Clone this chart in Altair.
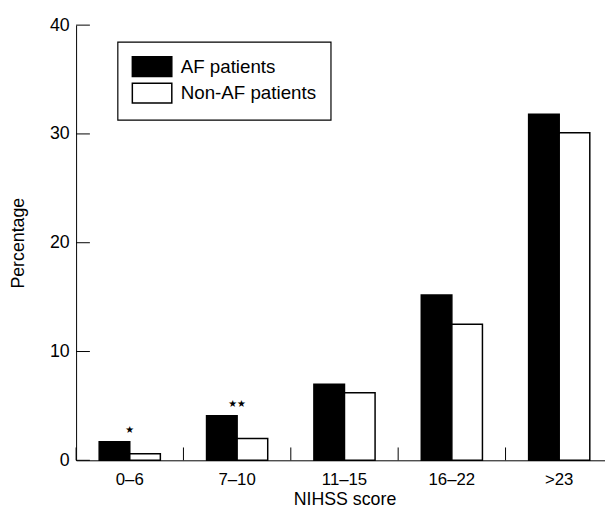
import altair as alt
import pandas as pd

categories = ["0–6", "7–10", "11–15", "16–22", ">23"]
groups = ["AF patients", "Non-AF patients"]
af_values = [1.7, 4.1, 7.0, 15.2, 31.8]
non_af_values = [0.6, 2.0, 6.2, 12.5, 30.1]
star_labels = ["★", "★★", "", "", ""]
y_ticks = [0, 10, 20, 30, 40]

rows = []
for c, a, n in zip(categories, af_values, non_af_values):
    rows.append({"cat": c, "group": groups[0], "value": a})
    rows.append({"cat": c, "group": groups[1], "value": n})
bars_df = pd.DataFrame(rows)
stars_df = pd.DataFrame({"cat": categories, "value": af_values, "label": star_labels})
stars_df = stars_df[stars_df["label"] != ""]
ticks_df = pd.DataFrame({"v": y_ticks})
cats_df = pd.DataFrame({"cat": categories})

FONT = "Liberation Sans"
W, H = 536, 441
STEP_RANGE = [0, 544]

x_scale = alt.Scale(domain=categories, range=STEP_RANGE, paddingInner=0, paddingOuter=0)
y_scale = alt.Scale(domain=[0, 40], nice=False)

x_axis = alt.Axis(title="NIHSS score", labelAngle=0, ticks=False, labelPadding=12,
                  titlePadding=3, domainColor="black", labelColor="black",
                  labelFontSize=17, titleFontSize=18, titleFontWeight="normal",
                  labelFont=FONT, titleFont=FONT, titleColor="black")
y_axis = alt.Axis(title="Percentage", values=y_ticks, ticks=False, grid=False,
                  labelPadding=7, titlePadding=22, domainColor="black", labelColor="black",
                  labelFontSize=18, titleFontSize=18, titleFontWeight="normal",
                  labelFont=FONT, titleFont=FONT, titleColor="black")

bars = alt.Chart(bars_df).mark_bar(stroke="black", strokeWidth=1.5).encode(
    x=alt.X("cat:N", scale=x_scale, sort=categories, axis=x_axis),
    xOffset=alt.XOffset("group:N", sort=groups,
                        scale=alt.Scale(domain=groups, paddingInner=0, paddingOuter=0.755)),
    y=alt.Y("value:Q", scale=y_scale, axis=y_axis),
    fill=alt.Fill("group:N", sort=groups,
                  scale=alt.Scale(domain=groups, range=["black", "white"]),
                  legend=alt.Legend(title=None, orient="none", legendX=42, legendY=17,
                                    symbolType="M-2,-1H2V1H-2Z", symbolSize=400,
                                    symbolStrokeColor="black", symbolStrokeWidth=1.5,
                                    symbolOffset=10, labelOffset=18,
                                    labelFontSize=19, labelFont=FONT, labelColor="black",
                                    strokeColor="black", padding=14, rowPadding=1)),
)

yticks = alt.Chart(ticks_df).mark_rule(color="black", strokeWidth=1).encode(
    y=alt.Y("v:Q", scale=y_scale, axis=y_axis),
    x=alt.value(0), x2=alt.value(14),
)

xticks = alt.Chart(cats_df).mark_rule(color="black", strokeWidth=1).encode(
    x=alt.X("cat:N", scale=x_scale, sort=categories, axis=x_axis, bandPosition=0),
    y=alt.value(H - 13), y2=alt.value(H),
)

stars = alt.Chart(stars_df).mark_text(dy=-12, fontSize=10, baseline="middle", color="black",
                                      font="DejaVu Sans").encode(
    x=alt.X("cat:N", scale=x_scale, sort=categories, axis=x_axis),
    y=alt.Y("value:Q", scale=y_scale, axis=y_axis),
    text="label:N",
)

chart = alt.layer(bars, yticks, xticks, stars).properties(
    width=W, height=H,
    autosize=alt.AutoSizeParams(type="none"),
    padding={"left": 69, "top": 14, "right": 0, "bottom": 48},
).configure_view(stroke=None).configure_legend(strokeWidth=1.2)

chart.save("out.html", embed_options={"renderer": "svg", "actions": False})
